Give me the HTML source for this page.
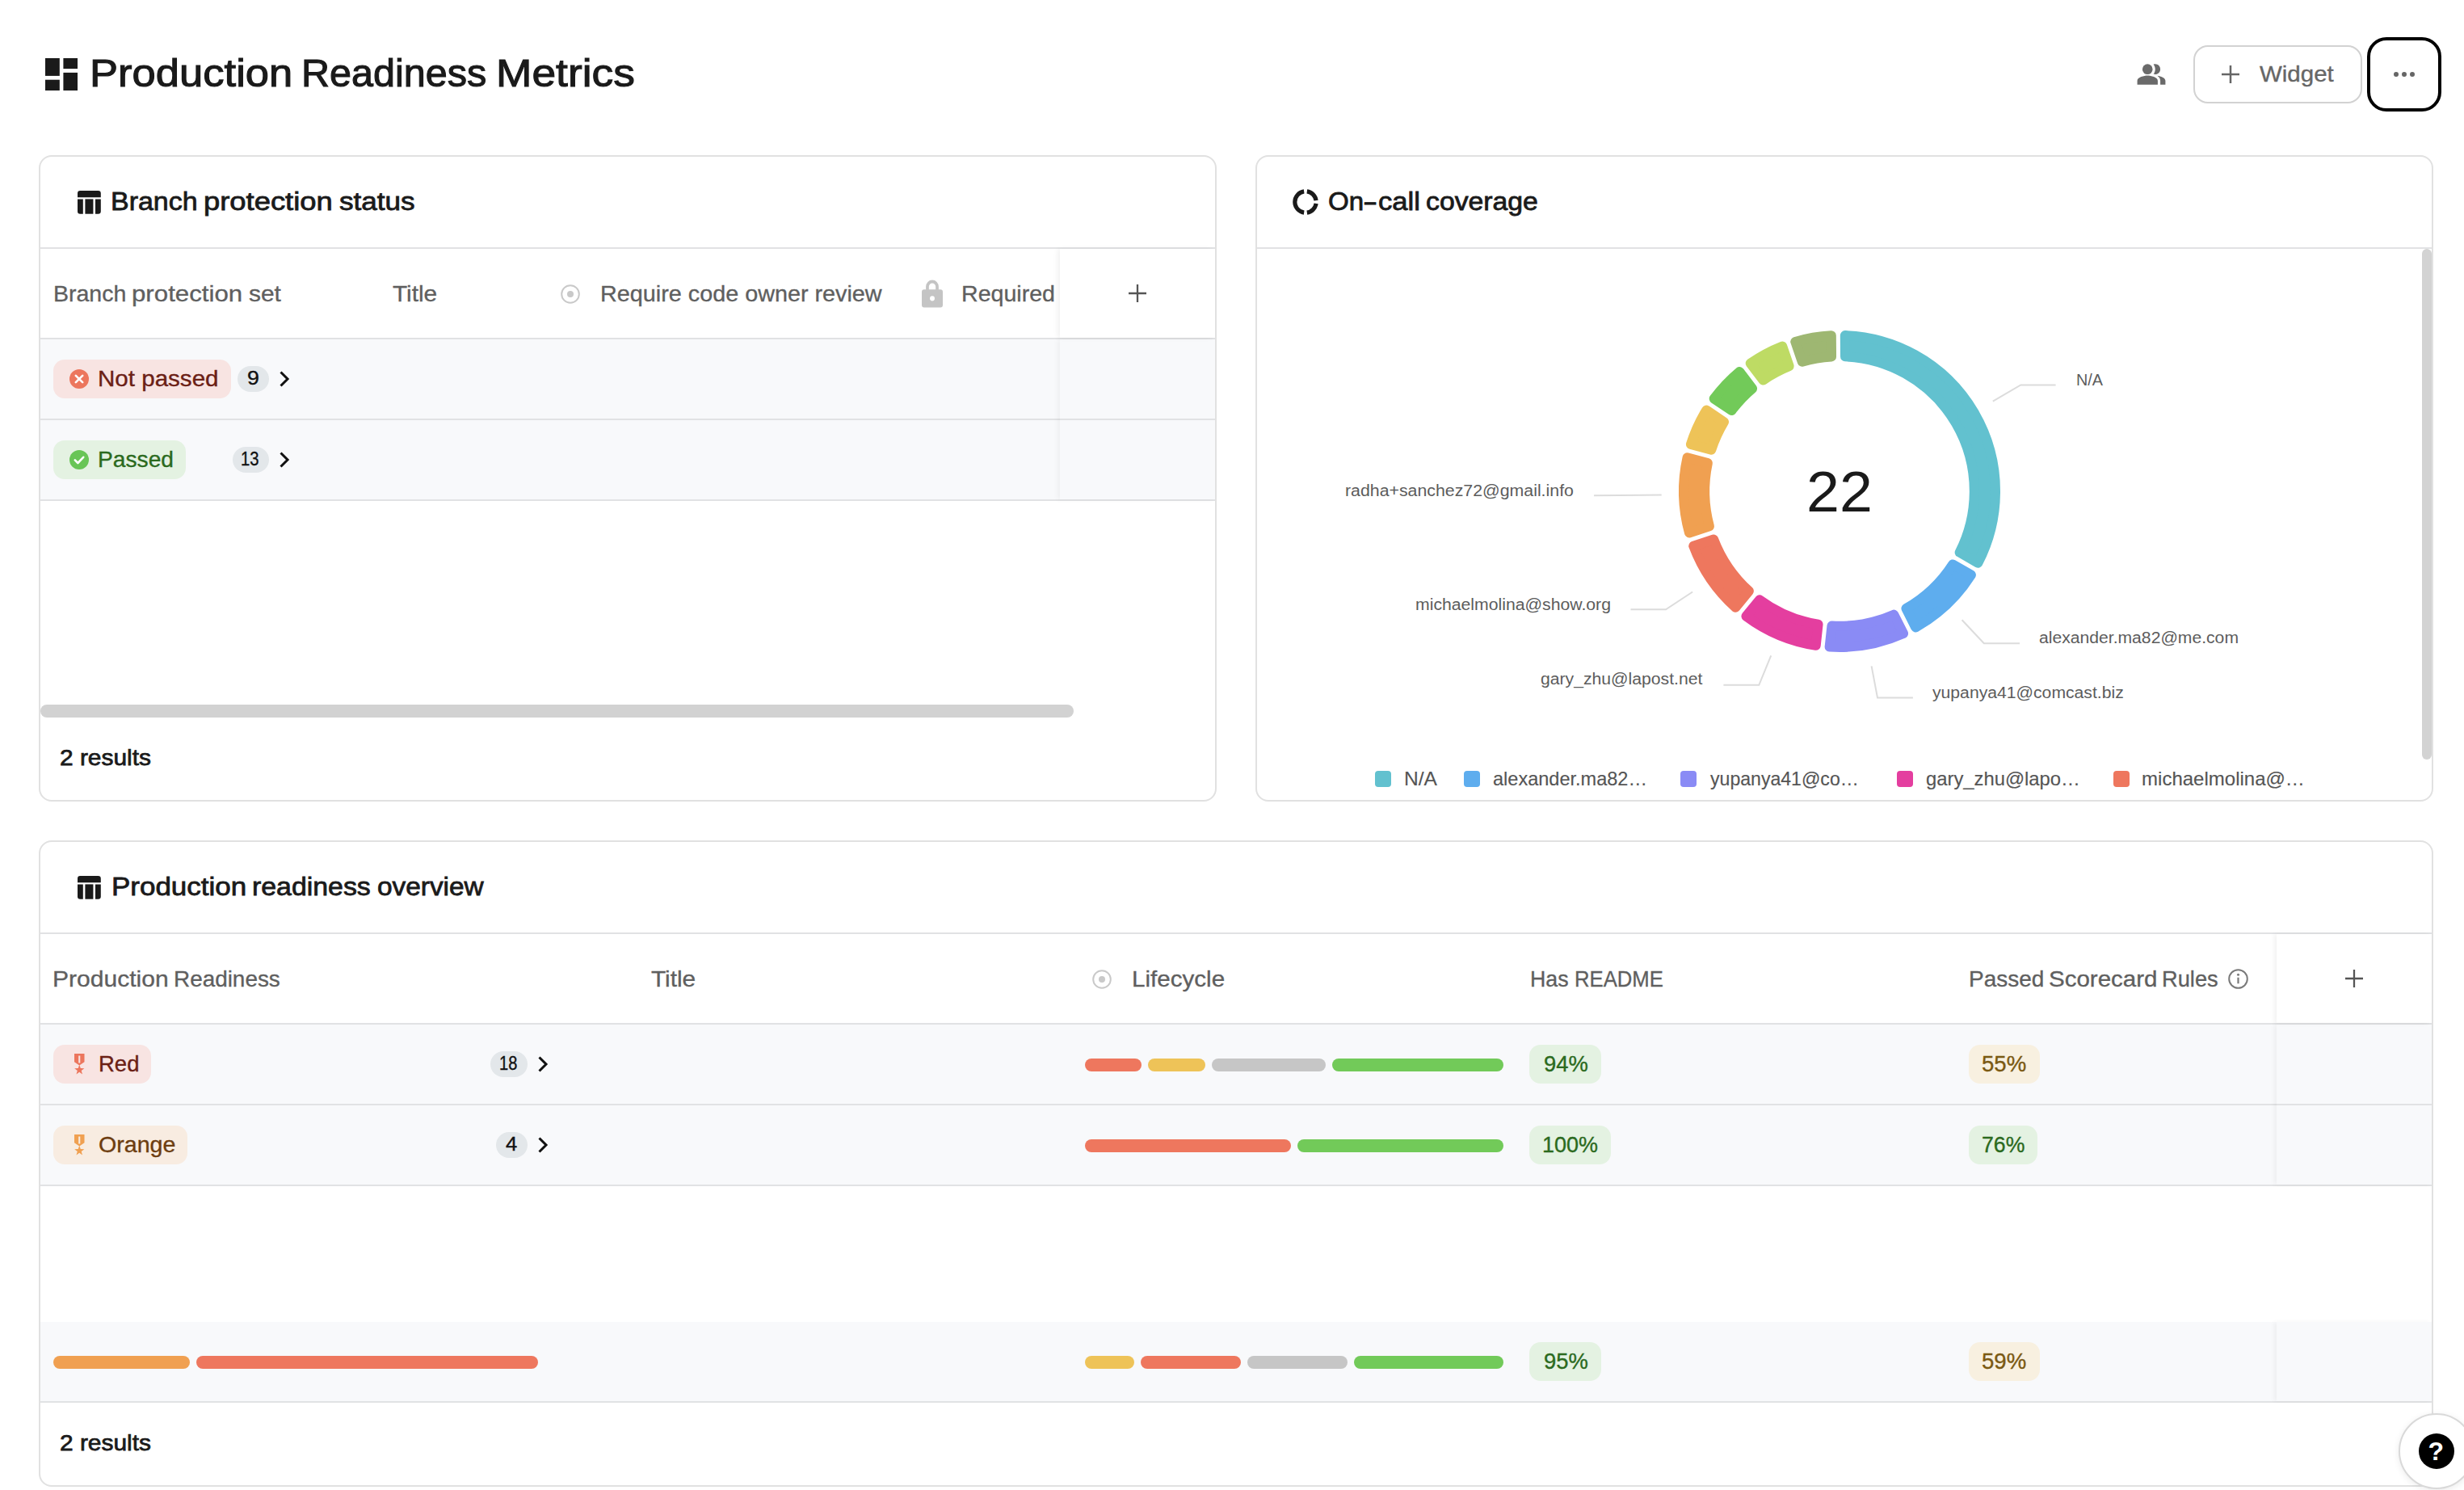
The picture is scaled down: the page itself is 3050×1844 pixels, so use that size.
<!DOCTYPE html><html lang="en"><head><meta charset="utf-8"><title>Production Readiness Metrics</title><style>
*{box-sizing:border-box;margin:0;padding:0}
html,body{width:3050px;height:1844px;overflow:hidden;background:#fff}
body{position:relative;font-family:"Liberation Sans",sans-serif;color:#1a1a1a}
.t{position:absolute;white-space:nowrap;line-height:1;display:block;transform-origin:0 0}
.w{position:absolute;top:0;left:0;transform-origin:0 0;white-space:pre}
.abs{position:absolute}
.card{position:absolute;border:2px solid #e1e1e1;border-radius:16px;background:#fff;overflow:hidden}
.hline{position:absolute;left:0;right:0;height:2px;background:#e1e2e4}
.rowbg{position:absolute;left:0;right:0;background:#f8f9fb}
.pill{position:absolute;border-radius:14px}
.cnt{position:absolute;border-radius:16px;background:#e3e7ea}
.bar{position:absolute;height:16px;border-radius:8px}
svg{position:absolute;overflow:visible}
</style></head><body>
<header>
<svg style="left:56px;top:72px" width="40" height="40" viewBox="0 0 40 40"><g fill="#1a1a1a"><rect x="0" y="0" width="17.800" height="21.900"/><rect x="22.400" y="0" width="17.600" height="13.100"/><rect x="0" y="26.700" width="17.800" height="13.300"/><rect x="22.400" y="17.900" width="17.600" height="22.100"/></g></svg>
<span class="t" style="left:0;top:66.3px;font-size:49px;color:#1a1a1a;-webkit-text-stroke:1.1px #1a1a1a;"><span class="w" style="left:110.7px;transform:scaleX(1.0727)">Production</span> <span class="w" style="left:372.9px;transform:scaleX(0.9905)">Readiness</span> <span class="w" style="left:614.0px;transform:scaleX(1.0883)">Metrics</span></span>
<svg style="left:2644px;top:73px" width="38" height="38" viewBox="0 0 24 24"><g fill="#6a6a6a" fill-rule="evenodd"><path d="M16.670 13.130C18.040 14.060 19 15.320 19 17v3h4v-3c0-2.180-3.570-3.470-6.330-3.870z"/><circle cx="9" cy="8" r="4"/><path d="M15 12c2.210 0 4-1.790 4-4s-1.790-4-4-4c-.47 0-.91.100-1.330.240C14.500 5.270 15 6.580 15 8s-.5 2.730-1.330 3.760c.42.140.860.240 1.330.240zM9 13c-2.670 0-8 1.340-8 4v3h16v-3c0-2.660-5.330-4-8-4z"/></g></svg>
<div class="abs" style="left:2715px;top:56px;width:209px;height:72px;border:2px solid #d2d2d2;border-radius:18px"></div>
<svg style="left:2750px;top:81px" width="22" height="22" viewBox="0 0 23 23"><path d="M11.500 0v23M0 11.500h23" stroke="#666" stroke-width="2.600" fill="none"/></svg>
<span class="t" style="left:2797.4px;top:78.0px;font-size:28px;color:#666;transform:scaleX(1.0524);-webkit-text-stroke:0.35px #666;">Widget</span>
<div class="abs" style="left:2930px;top:46px;width:92px;height:92px;border:4px solid #000;border-radius:24px"></div>
<svg style="left:2963px;top:89px" width="26" height="6" viewBox="0 0 26 6"><g fill="#666"><circle cx="3" cy="3" r="3"/><circle cx="13" cy="3" r="3"/><circle cx="23" cy="3" r="3"/></g></svg>
</header>
<section class="card" style="left:48px;top:192px;width:1458px;height:800px">
<svg style="left:45.5px;top:41.599999999999994px" width="29" height="29" viewBox="0 0 29 29"><g fill="#1a1a1a"><path d="M3.200 0h22.400a3.200 3.200 0 0 1 3.200 3.200V8.200H0V3.200A3.200 3.200 0 0 1 3.200 0z"/><path d="M0 10.400h6.800v18.300H3.200A3.200 3.200 0 0 1 0 25.500z"/><rect x="9.400" y="10.400" width="10" height="18.300"/><path d="M22 10.400h6.800v15.100a3.200 3.200 0 0 1-3.200 3.200H22z"/></g></svg>
<span class="t" style="left:0;top:39.3px;font-size:32px;color:#1a1a1a;-webkit-text-stroke:0.8px #1a1a1a;"><span class="w" style="left:87.2px;transform:scaleX(1.0605)">Branch</span> <span class="w" style="left:202.1px;transform:scaleX(1.1370)">protection</span> <span class="w" style="left:369.5px;transform:scaleX(1.0967)">status</span></span>
<div class="hline" style="top:112px"></div>
<span class="t" style="left:0;top:155.6px;font-size:28px;color:#5f5f5f;-webkit-text-stroke:0.35px #5f5f5f;"><span class="w" style="left:15.7px;transform:scaleX(1.0183)">Branch</span> <span class="w" style="left:113.0px;transform:scaleX(1.1155)">protection</span> <span class="w" style="left:257.5px;transform:scaleX(1.0676)">set</span></span>
<span class="t" style="left:436.1px;top:155.6px;font-size:28px;color:#5f5f5f;transform:scaleX(1.0640);-webkit-text-stroke:0.35px #5f5f5f;">Title</span>
<svg style="left:644px;top:158px" width="24" height="24" viewBox="0 0 24 24"><circle cx="12" cy="12" r="10.800" fill="none" stroke="#c9c9c9" stroke-width="2"/><circle cx="12" cy="12" r="4" fill="#c9c9c9"/></svg>
<span class="t" style="left:693.2px;top:155.6px;font-size:28px;color:#5f5f5f;transform:scaleX(1.0276);-webkit-text-stroke:0.35px #5f5f5f;">Require code owner review</span>
<svg style="left:1091px;top:152px" width="26" height="34.500" viewBox="0 0 28 35" preserveAspectRatio="none"><path d="M7.500 13V9a6.500 6.500 0 0 1 13 0v4" fill="none" stroke="#c4c4c4" stroke-width="4"/><path d="M3 12.500h22a3 3 0 0 1 3 3V32a3 3 0 0 1-3 3H3a3 3 0 0 1-3-3V15.500a3 3 0 0 1 3-3zM14 20.500a3.200 3.200 0 1 0 0 6.400a3.200 3.200 0 0 0 0-6.400z" fill="#c4c4c4" fill-rule="evenodd"/></svg>
<span class="t" style="left:1139.9px;top:155.6px;font-size:28px;color:#5f5f5f;transform:scaleX(1.0210);-webkit-text-stroke:0.35px #5f5f5f;">Required</span>
<div class="hline" style="top:224px"></div>
<div class="rowbg" style="top:226px;height:98px"></div><div class="hline" style="top:324px"></div>
<div class="rowbg" style="top:326px;height:98px"></div><div class="hline" style="top:424px"></div>
<div class="pill" style="left:16px;top:251px;width:220px;height:48px;background:#f8e4e2"></div>
<svg style="left:36px;top:263px" width="24" height="24" viewBox="0 0 24 24"><circle cx="12" cy="12" r="12" fill="#ec765d"/><path d="M7.800 7.800l8.400 8.400M16.200 7.800l-8.400 8.400" stroke="#fff" stroke-width="2.600" stroke-linecap="round"/></svg>
<span class="t" style="left:71.2px;top:260.6px;font-size:28px;color:#6b2015;transform:scaleX(1.0556);-webkit-text-stroke:0.35px #6b2015;">Not passed</span>
<div class="cnt" style="left:244px;top:259px;width:39px;height:32px"></div>
<span class="t" style="left:256.2px;top:263.1px;font-size:23px;color:#111;transform:scaleX(1.1628);-webkit-text-stroke:0.35px #111;">9</span>
<svg style="left:296px;top:265px" width="12" height="20" viewBox="0 0 12 20"><path d="M1.500 1.500L10 10L1.500 18.500" fill="none" stroke="#111" stroke-width="3" stroke-linejoin="miter"/></svg>
<div class="pill" style="left:16px;top:351px;width:164px;height:48px;background:#e4f2e2"></div>
<svg style="left:36px;top:363px" width="24" height="24" viewBox="0 0 24 24"><circle cx="12" cy="12" r="12" fill="#68c556"/><path d="M6.800 12.400l3.600 3.600l6.800-7.200" fill="none" stroke="#fff" stroke-width="2.600" stroke-linecap="round" stroke-linejoin="round"/></svg>
<span class="t" style="left:71.3px;top:360.6px;font-size:28px;color:#2b6a1e;transform:scaleX(1.0062);-webkit-text-stroke:0.35px #2b6a1e;">Passed</span>
<div class="cnt" style="left:238px;top:359px;width:45px;height:32px"></div>
<span class="t" style="left:248.1px;top:363.1px;font-size:23px;color:#111;transform:scaleX(0.8791);-webkit-text-stroke:0.35px #111;">13</span>
<svg style="left:296px;top:365px" width="12" height="20" viewBox="0 0 12 20"><path d="M1.500 1.500L10 10L1.500 18.500" fill="none" stroke="#111" stroke-width="3" stroke-linejoin="miter"/></svg>
<div class="abs" style="left:1262px;top:114px;width:192px;height:110px;background:#fff;box-shadow:-3px 0 6px rgba(0,0,0,.055)"></div>
<div class="abs" style="left:1262px;top:226px;width:192px;height:198px;box-shadow:-3px 0 6px rgba(0,0,0,.045)"></div>
<svg style="left:1347px;top:158px" width="22" height="22" viewBox="0 0 23 23"><path d="M11.500 0v23M0 11.500h23" stroke="#555" stroke-width="2.400" fill="none"/></svg>
<div class="abs" style="left:0;top:678px;width:1279px;height:16px;border-radius:8px;background:#d2d2d2"></div>
<span class="t" style="left:23.8px;top:729.6px;font-size:28px;color:#1a1a1a;transform:scaleX(1.0673);-webkit-text-stroke:0.75px #1a1a1a;">2 results</span>
</section><section class="card" style="left:1554px;top:192px;width:1458px;height:800px">
<svg style="left:44px;top:39.599999999999994px" width="32" height="32" viewBox="0 0 32 32"><path d="M17.84 2.93A13.2 13.2 0 0 1 29.07 14.16M29.07 17.84A13.2 13.2 0 0 1 17.84 29.07M14.16 29.07A13.2 13.2 0 0 1 14.16 2.93" fill="none" stroke="#1a1a1a" stroke-width="5.200"/></svg>
<span class="t" style="left:0;top:39.3px;font-size:32px;color:#1a1a1a;-webkit-text-stroke:0.8px #1a1a1a;"><span class="w" style="left:87.7px;transform:scaleX(1.0344)">On</span><span class="w" style="left:131.4px;transform:scaleX(1.7032)">-</span><span class="w" style="left:149.5px;transform:scaleX(1.0816)">call</span> <span class="w" style="left:208.9px;transform:scaleX(1.0550)">coverage</span></span>
<div class="hline" style="top:112px"></div>
<svg style="left:0;top:0" width="1454" height="796" viewBox="0 0 1454 796">
<g stroke-width="12.0" stroke-linejoin="round">
<path d="M727.82 221.12A193.0 193.0 0 0 1 892.39 502.75L869.65 489.67A166.8 166.8 0 0 0 728.05 247.35Z" fill="#62c1cf" stroke="#62c1cf"/>
<path d="M883.91 517.48A193.0 193.0 0 0 1 815.23 582.43L803.44 559.00A166.8 166.8 0 0 0 861.17 504.41Z" fill="#5eadee" stroke="#5eadee"/>
<path d="M800.04 590.07A193.0 193.0 0 0 1 708.63 606.60L711.46 580.53A166.8 166.8 0 0 0 788.26 566.64Z" fill="#8a8bf5" stroke="#8a8bf5"/>
<path d="M691.73 604.77A193.0 193.0 0 0 1 605.45 568.59L622.07 548.29A166.8 166.8 0 0 0 694.56 578.69Z" fill="#e43e9f" stroke="#e43e9f"/>
<path d="M592.30 557.82A193.0 193.0 0 0 1 540.25 481.67L565.20 473.56A166.8 166.8 0 0 0 608.91 537.53Z" fill="#ee775e" stroke="#ee775e"/>
<path d="M535.00 465.50A193.0 193.0 0 0 1 532.56 372.31L557.89 379.10A166.8 166.8 0 0 0 559.94 457.39Z" fill="#f0a051" stroke="#f0a051"/>
<path d="M536.96 355.89A193.0 193.0 0 0 1 556.22 313.51L577.99 328.14A166.8 166.8 0 0 0 562.29 362.67Z" fill="#eec358" stroke="#eec358"/>
<path d="M565.70 299.40A193.0 193.0 0 0 1 597.14 265.99L613.07 286.83A166.8 166.8 0 0 0 587.47 314.03Z" fill="#72ca59" stroke="#72ca59"/>
<path d="M610.64 255.66A193.0 193.0 0 0 1 650.19 234.46L658.73 259.26A166.8 166.8 0 0 0 626.57 276.50Z" fill="#bedb64" stroke="#bedb64"/>
<path d="M666.26 228.92A193.0 193.0 0 0 1 710.82 221.27L711.05 247.50A166.8 166.8 0 0 0 674.80 253.73Z" fill="#9eb772" stroke="#9eb772"/>
</g>
<g fill="none" stroke="#dcdcdc" stroke-width="2">
<polyline points="910.8,302.6 945.3,282.4 988.6,282.4"/>
<polyline points="500.7,418.5 417.0,419.2"/>
<polyline points="539.1,538.5 506.0,560.3 462.5,560.3"/>
<polyline points="636.2,617.4 621.3,653.8 577.4,653.8"/>
<polyline points="760.6,630.4 768.0,669.4 811.9,669.4"/>
<polyline points="872.6,573.3 899.8,602.2 944.0,602.2"/>
</g></svg>
<span class="t" style="left:680.2px;top:379.7px;font-size:70px;color:#1a1a1a;transform:scaleX(1.0507);">22</span>
<span class="t" style="left:1013.9px;top:266.0px;font-size:20px;color:#5c5c5c;transform:scaleX(0.9890);">N/A</span>
<span class="t" style="left:109.1px;top:403.2px;font-size:20px;color:#5c5c5c;transform:scaleX(1.0657);">radha+sanchez72@gmail.info</span>
<span class="t" style="left:196.0px;top:543.9px;font-size:20px;color:#5c5c5c;transform:scaleX(1.0603);">michaelmolina@show.org</span>
<span class="t" style="left:351.0px;top:636.4px;font-size:20px;color:#5c5c5c;transform:scaleX(1.0584);">gary_zhu@lapost.net</span>
<span class="t" style="left:836.4px;top:652.6px;font-size:20px;color:#5c5c5c;transform:scaleX(1.0581);">yupanya41@comcast.biz</span>
<span class="t" style="left:968.3px;top:585.1px;font-size:20px;color:#5c5c5c;transform:scaleX(1.0566);">alexander.ma82@me.com</span>
<div class="abs" style="left:146.0px;top:760px;width:20px;height:20px;border-radius:4px;background:#62c1cf"></div>
<span class="t" style="left:182.3px;top:757.5px;font-size:24px;color:#555;transform:scaleX(1.0237);-webkit-text-stroke:0.15px #555;">N/A</span>
<div class="abs" style="left:256.3px;top:760px;width:20px;height:20px;border-radius:4px;background:#5eadee"></div>
<span class="t" style="left:291.7px;top:757.5px;font-size:24px;color:#555;transform:scaleX(0.9801);-webkit-text-stroke:0.15px #555;">alexander.ma82…</span>
<div class="abs" style="left:524.2px;top:760px;width:20px;height:20px;border-radius:4px;background:#8a8bf5"></div>
<span class="t" style="left:560.6px;top:757.5px;font-size:24px;color:#555;transform:scaleX(0.9617);-webkit-text-stroke:0.15px #555;">yupanya41@co…</span>
<div class="abs" style="left:792.0px;top:760px;width:20px;height:20px;border-radius:4px;background:#e43e9f"></div>
<span class="t" style="left:827.7px;top:757.5px;font-size:24px;color:#555;transform:scaleX(0.9918);-webkit-text-stroke:0.15px #555;">gary_zhu@lapo…</span>
<div class="abs" style="left:1060.2px;top:760px;width:20px;height:20px;border-radius:4px;background:#ee775e"></div>
<span class="t" style="left:1095.1px;top:757.5px;font-size:24px;color:#555;-webkit-text-stroke:0.15px #555;">michaelmolina@…</span>
<div class="abs" style="left:1442px;top:114px;width:12px;height:632px;border-radius:6px;background:#d3d3d3"></div>
</section><section class="card" style="left:48px;top:1040px;width:2964px;height:800px">
<svg style="left:45.5px;top:41.59999999999991px" width="29" height="29" viewBox="0 0 29 29"><g fill="#1a1a1a"><path d="M3.200 0h22.400a3.200 3.200 0 0 1 3.200 3.200V8.200H0V3.200A3.200 3.200 0 0 1 3.200 0z"/><path d="M0 10.400h6.800v18.300H3.200A3.200 3.200 0 0 1 0 25.500z"/><rect x="9.400" y="10.400" width="10" height="18.300"/><path d="M22 10.400h6.800v15.100a3.200 3.200 0 0 1-3.200 3.200H22z"/></g></svg>
<span class="t" style="left:0;top:39.3px;font-size:32px;color:#1a1a1a;-webkit-text-stroke:0.8px #1a1a1a;"><span class="w" style="left:87.8px;transform:scaleX(1.0929)">Production</span> <span class="w" style="left:261.8px;transform:scaleX(1.0576)">readiness</span> <span class="w" style="left:417.1px;transform:scaleX(1.0427)">overview</span></span>
<div class="hline" style="top:112px"></div>
<span class="t" style="left:0;top:155.6px;font-size:28px;color:#5f5f5f;-webkit-text-stroke:0.35px #5f5f5f;"><span class="w" style="left:15.4px;transform:scaleX(1.0728)">Production</span> <span class="w" style="left:165.3px;transform:scaleX(0.9961)">Readiness</span></span>
<span class="t" style="left:756.0px;top:155.6px;font-size:28px;color:#5f5f5f;transform:scaleX(1.0640);-webkit-text-stroke:0.35px #5f5f5f;">Title</span>
<svg style="left:1302px;top:158px" width="24" height="24" viewBox="0 0 24 24"><circle cx="12" cy="12" r="10.800" fill="none" stroke="#c9c9c9" stroke-width="2"/><circle cx="12" cy="12" r="4" fill="#c9c9c9"/></svg>
<span class="t" style="left:1350.7px;top:155.6px;font-size:28px;color:#5f5f5f;transform:scaleX(1.0569);-webkit-text-stroke:0.35px #5f5f5f;">Lifecycle</span>
<span class="t" style="left:0;top:155.6px;font-size:28px;color:#5f5f5f;-webkit-text-stroke:0.35px #5f5f5f;"><span class="w" style="left:1843.9px;transform:scaleX(0.9548)">Has</span> <span class="w" style="left:1899.1px;transform:scaleX(0.9170)">README</span></span>
<span class="t" style="left:0;top:155.6px;font-size:28px;color:#5f5f5f;-webkit-text-stroke:0.35px #5f5f5f;"><span class="w" style="left:2386.6px;transform:scaleX(0.9994)">Passed</span> <span class="w" style="left:2486.2px;transform:scaleX(1.0538)">Scorecard</span> <span class="w" style="left:2626.4px;transform:scaleX(0.9729)">Rules</span></span>
<svg style="left:2707.5px;top:157.29999999999995px" width="25" height="25" viewBox="0 0 25 25"><circle cx="12.500" cy="12.500" r="11.300" fill="none" stroke="#7a7a7a" stroke-width="2"/><circle cx="12.500" cy="7.300" r="1.500" fill="#7a7a7a"/><path d="M12.500 10.800v7.400" stroke="#7a7a7a" stroke-width="2.200"/></svg>
<div class="hline" style="top:224px"></div>
<div class="rowbg" style="top:226px;height:98px"></div><div class="hline" style="top:324px"></div>
<div class="rowbg" style="top:326px;height:98px"></div><div class="hline" style="top:424px"></div>
<div class="rowbg" style="top:594px;height:98px"></div><div class="hline" style="top:692px"></div>
<div class="pill" style="left:16px;top:251px;width:121px;height:48px;background:#f8e4e2"></div>
<svg style="left:41.8px;top:262px" width="12.500" height="27" viewBox="0 0 12.500 27"><path d="M0 0h12.500v10.300L6.250 14.400L0 10.300z" fill="#ec765d"/><rect x="5.200" y="2.500" width="2.100" height="9" fill="#f8e4e2"/><path d="M6.25 13.80L7.78 18.10L12.34 18.22L8.72 21.00L10.01 25.38L6.25 22.80L2.49 25.38L3.78 21.00L0.16 18.22L4.72 18.10z" fill="#ec765d"/></svg>
<span class="t" style="left:71.6px;top:260.7px;font-size:28px;color:#6b2015;transform:scaleX(0.9820);-webkit-text-stroke:0.35px #6b2015;">Red</span>
<div class="cnt" style="left:557px;top:259px;width:46px;height:32px"></div>
<span class="t" style="left:567.7px;top:263.1px;font-size:23px;color:#111;transform:scaleX(0.8703);-webkit-text-stroke:0.35px #111;">18</span>
<svg style="left:616px;top:265px" width="12" height="20" viewBox="0 0 12 20"><path d="M1.500 1.500L10 10L1.500 18.500" fill="none" stroke="#111" stroke-width="3" stroke-linejoin="miter"/></svg>
<div class="pill" style="left:16px;top:351px;width:166px;height:48px;background:#f8ece1"></div>
<svg style="left:41.8px;top:362px" width="12.500" height="27" viewBox="0 0 12.500 27"><path d="M0 0h12.500v10.300L6.250 14.400L0 10.300z" fill="#f0a051"/><rect x="5.200" y="2.500" width="2.100" height="9" fill="#f8ece1"/><path d="M6.25 13.80L7.78 18.10L12.34 18.22L8.72 21.00L10.01 25.38L6.25 22.80L2.49 25.38L3.78 21.00L0.16 18.22L4.72 18.10z" fill="#f0a051"/></svg>
<span class="t" style="left:71.6px;top:360.7px;font-size:28px;color:#6d3d10;transform:scaleX(1.0215);-webkit-text-stroke:0.35px #6d3d10;">Orange</span>
<div class="cnt" style="left:564px;top:359px;width:39px;height:32px"></div>
<span class="t" style="left:576.3px;top:363.1px;font-size:23px;color:#111;transform:scaleX(1.1149);-webkit-text-stroke:0.35px #111;">4</span>
<svg style="left:616px;top:365px" width="12" height="20" viewBox="0 0 12 20"><path d="M1.500 1.500L10 10L1.500 18.500" fill="none" stroke="#111" stroke-width="3" stroke-linejoin="miter"/></svg>
<div class="bar" style="left:1293.0px;top:268px;width:70.0px;background:#ee775e"></div>
<div class="bar" style="left:1371.0px;top:268px;width:71.0px;background:#eec358"></div>
<div class="bar" style="left:1450.0px;top:268px;width:141.0px;background:#c6c6c6"></div>
<div class="bar" style="left:1599.0px;top:268px;width:212.0px;background:#72ca59"></div>
<div class="bar" style="left:1293.0px;top:368px;width:255.0px;background:#ee775e"></div>
<div class="bar" style="left:1556.0px;top:368px;width:255.0px;background:#72ca59"></div>
<div class="bar" style="left:1293.0px;top:636px;width:61.0px;background:#eec358"></div>
<div class="bar" style="left:1362.0px;top:636px;width:124.0px;background:#ee775e"></div>
<div class="bar" style="left:1494.0px;top:636px;width:124.0px;background:#c6c6c6"></div>
<div class="bar" style="left:1626.0px;top:636px;width:185.0px;background:#72ca59"></div>
<div class="bar" style="left:16.0px;top:636px;width:169.0px;background:#f0a051"></div>
<div class="bar" style="left:193.0px;top:636px;width:423.0px;background:#ee775e"></div>
<div class="pill" style="left:1843px;top:251px;width:89px;height:48px;background:#e4f2e2"></div><span class="t" style="left:1860.5px;top:260.8px;font-size:28px;color:#2b6a1e;transform:scaleX(0.9778);-webkit-text-stroke:0.35px #2b6a1e;">94%</span>
<div class="pill" style="left:1843px;top:351px;width:101px;height:48px;background:#e4f2e2"></div><span class="t" style="left:1859.1px;top:360.8px;font-size:28px;color:#2b6a1e;transform:scaleX(0.9629);-webkit-text-stroke:0.35px #2b6a1e;">100%</span>
<div class="pill" style="left:1843px;top:619px;width:89px;height:48px;background:#e4f2e2"></div><span class="t" style="left:1860.5px;top:628.8px;font-size:28px;color:#2b6a1e;transform:scaleX(0.9778);-webkit-text-stroke:0.35px #2b6a1e;">95%</span>
<div class="pill" style="left:2387px;top:251px;width:88px;height:48px;background:#f8f0e0"></div><span class="t" style="left:2403.3px;top:260.8px;font-size:28px;color:#7a5912;transform:scaleX(0.9852);-webkit-text-stroke:0.35px #7a5912;">55%</span>
<div class="pill" style="left:2387px;top:351px;width:85px;height:48px;background:#e4f2e2"></div><span class="t" style="left:2402.5px;top:360.8px;font-size:28px;color:#2b6a1e;transform:scaleX(0.9526);-webkit-text-stroke:0.35px #2b6a1e;">76%</span>
<div class="pill" style="left:2387px;top:619px;width:88px;height:48px;background:#f8f0e0"></div><span class="t" style="left:2403.3px;top:628.8px;font-size:28px;color:#7a5912;transform:scaleX(0.9852);-webkit-text-stroke:0.35px #7a5912;">59%</span>
<div class="abs" style="left:2768px;top:114px;width:192px;height:110px;background:#fff;box-shadow:-3px 0 6px rgba(0,0,0,.055)"></div>
<div class="abs" style="left:2768px;top:226px;width:192px;height:198px;box-shadow:-3px 0 6px rgba(0,0,0,.045)"></div>
<div class="abs" style="left:2768px;top:594px;width:192px;height:98px;box-shadow:-3px 0 6px rgba(0,0,0,.045)"></div>
<svg style="left:2853px;top:158px" width="22" height="22" viewBox="0 0 23 23"><path d="M11.500 0v23M0 11.500h23" stroke="#555" stroke-width="2.400" fill="none"/></svg>
<span class="t" style="left:23.8px;top:729.6px;font-size:28px;color:#1a1a1a;transform:scaleX(1.0673);-webkit-text-stroke:0.75px #1a1a1a;">2 results</span>
</section>
<div class="abs" style="left:2969px;top:1749px;width:94px;height:94px;border-radius:50%;background:#fff;border:2px solid #d9d9d9;box-shadow:0 2px 8px rgba(0,0,0,.08)"></div>
<div class="abs" style="left:2994px;top:1774px;width:44px;height:44px;border-radius:50%;background:#000"></div>
<span class="t" style="left:3005.5px;top:1779.9px;font-size:32px;color:#fff;font-weight:700;">?</span>
</body></html>
